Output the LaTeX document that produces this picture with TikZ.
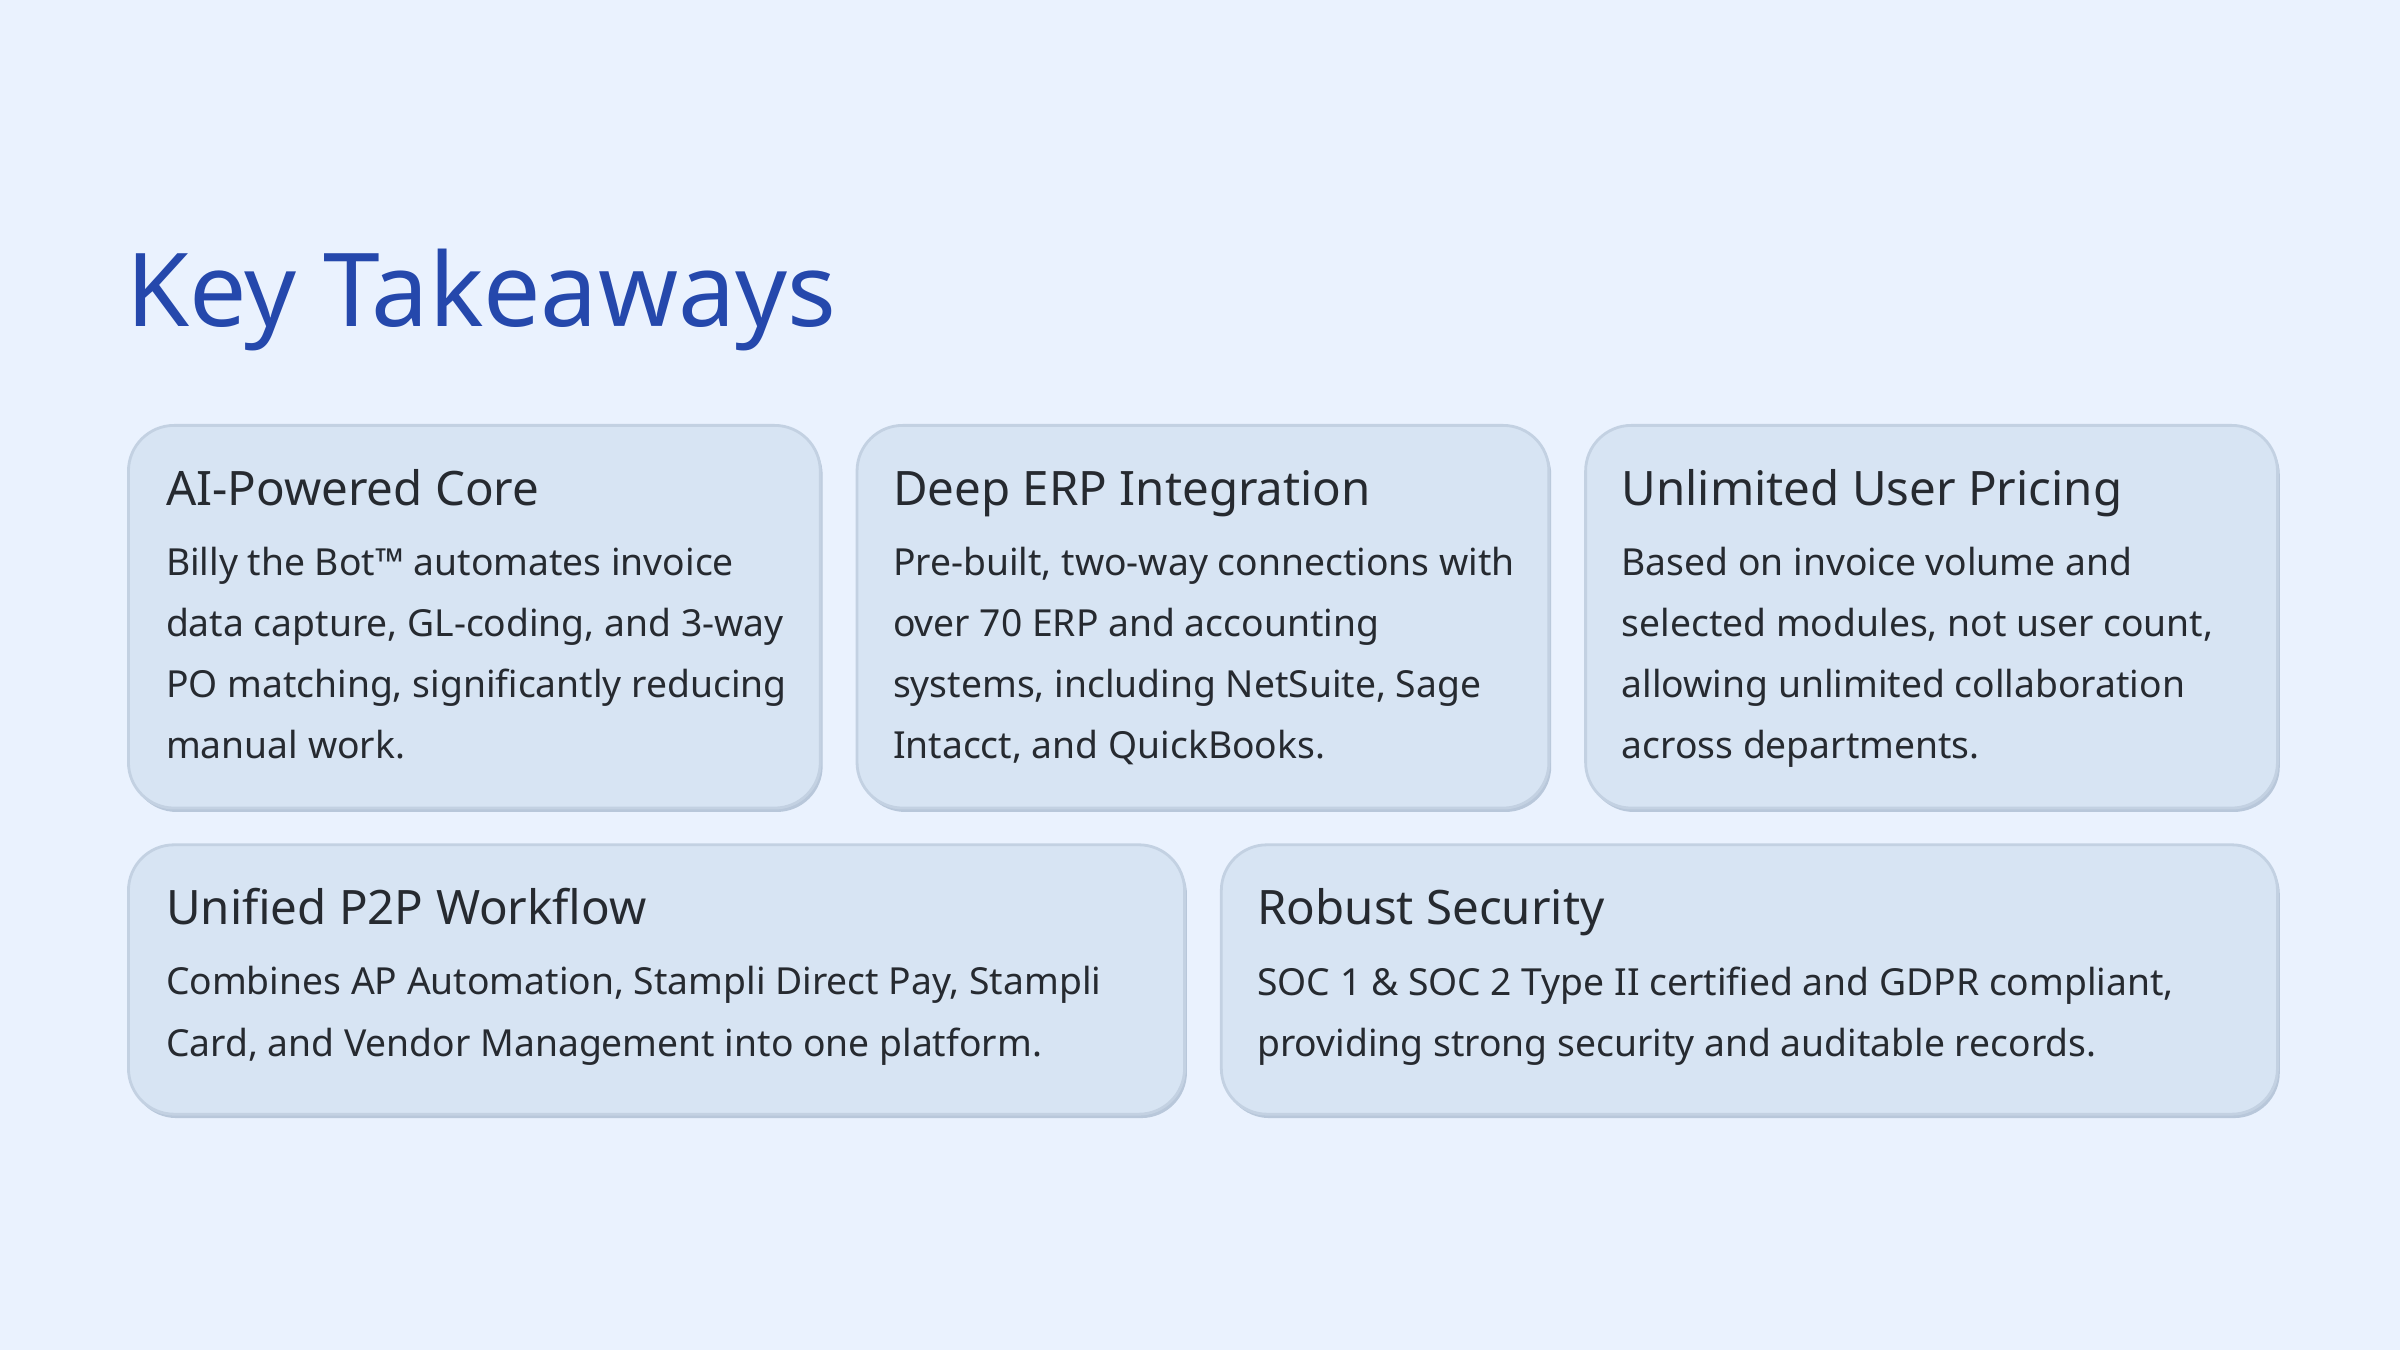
\documentclass[tikz,border=0pt]{standalone}
\usepackage{fontspec}
\setmainfont{Noto Sans}
\usetikzlibrary{positioning}
\definecolor{bgblue}{HTML}{EAF2FE}
\definecolor{cardfill}{HTML}{D7E4F3}
\definecolor{cardline}{HTML}{C3D1E2}
\definecolor{cardshade}{HTML}{B8C7DA}
\definecolor{titleblue}{HTML}{2548AC}
\definecolor{inkdark}{HTML}{262A30}
\tikzset{
  card/.style={draw=cardline, line width=0.8pt, fill=cardfill, rounded corners=13pt, anchor=north west, inner sep=0pt},
  cardshadow/.style={fill=cardshade, rounded corners=13pt, anchor=north west, inner sep=0pt, draw=none},
  cardtitle/.style={anchor=base west, inner sep=0pt, text=inkdark, font=\fontsize{13.5}{16}\selectfont\bfseries},
  cardbody/.style={anchor=north west, inner sep=0pt, align=left, text=inkdark, font=\fontsize{10.6}{17.4}\selectfont},
}
\begin{document}
\begin{tikzpicture}[x=0.01531cm, y=-0.01531cm]
    \fill[bgblue] (0,0) rectangle (1568,882);
    \useasboundingbox (0,0) rectangle (1568,882);
    % heading
    \node[anchor=base west, inner sep=0pt, text=titleblue, font=\fontsize{29}{34}\selectfont\bfseries] (head) at (82,213) {Key Takeaways};
    % cards
    \foreach \nm/\x/\y/\w/\h in {ai/83/277/452/250, erp/559/277/452/250, user/1035/277/452/250, ptp/83/551/690/176, sec/797/551/690/176}{
        \node[cardshadow, minimum width=\w*0.01531cm, minimum height=\h*0.01531cm] at (\x+2,\y+3) {};
        \node[card, minimum width=\w*0.01531cm, minimum height=\h*0.01531cm] (\nm) at (\x,\y) {};
    }
    % row one
    \node[cardtitle] (aiT) at (108,330) {AI-Powered Core};
    \node[cardbody] (aiB) at (108,357) {Billy the Bot™ automates invoice\\data capture, GL-coding, and 3-way\\PO matching, significantly reducing\\manual work.};
    \node[cardtitle] (erpT) at (583,330) {Deep ERP Integration};
    \node[cardbody] (erpB) at (583,357) {Pre-built, two-way connections with\\over 70 ERP and accounting\\systems, including NetSuite, Sage\\Intacct, and QuickBooks.};
    \node[cardtitle] (userT) at (1059,330) {Unlimited User Pricing};
    \node[cardbody] (userB) at (1059,357) {Based on invoice volume and\\selected modules, not user count,\\allowing unlimited collaboration\\across departments.};
    % row two
    \node[cardtitle] (ptpT) at (108,604) {Unified P2P Workflow};
    \node[cardbody] (ptpB) at (108,631) {Combines AP Automation, Stampli Direct Pay, Stampli\\Card, and Vendor Management into one platform.};
    \node[cardtitle] (secT) at (821,604) {Robust Security};
    \node[cardbody] (secB) at (821,631) {SOC 1 \& SOC 2 Type II certified and GDPR compliant,\\providing strong security and auditable records.};
\end{tikzpicture}
\end{document}
